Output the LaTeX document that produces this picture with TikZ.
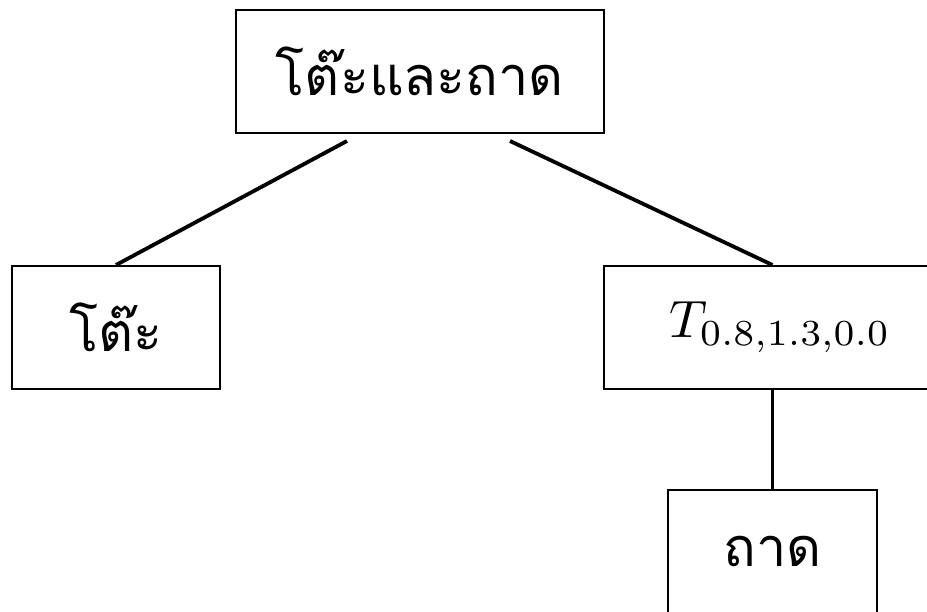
\documentclass[tikz,border=0pt]{standalone}
\usepackage{fontspec}
\newfontfamily\thaifont[Script=Thai]{Loma}
\tikzset{
  box/.style={draw, line width=2pt, rectangle, inner sep=0pt, minimum height=123pt},
  edge/.style={line width=3.8pt},
  big/.style={font=\fontsize{54}{60}\selectfont}
}
\begin{document}
\begin{tikzpicture}[x=1pt,y=-1pt]
\useasboundingbox (0,0) rectangle (927,612);
\node[box, big, minimum width=368pt] (top) at (420,71.5) {\thaifont โต๊ะและถาด};
\node[box, big, minimum width=208pt] (left) at (116,327.5) {\thaifont โต๊ะ};
\node[box, minimum width=352pt] (right) at (780,327.5) {\scalebox{5.25}{$T_{0.8,1.3,0.0}$}};
\node[box, big, minimum width=209pt] (bottom) at (772.5,551.5) {\thaifont ถาด};
\draw[edge] ([xshift=-73pt,yshift=-7pt]top.south) -- (left.north);
\draw[edge] ([xshift=90pt,yshift=-7pt]top.south) -- (bottom.north |- right.north);
\draw[edge] (bottom.north |- right.south) -- (bottom.north);
\end{tikzpicture}
\end{document}
